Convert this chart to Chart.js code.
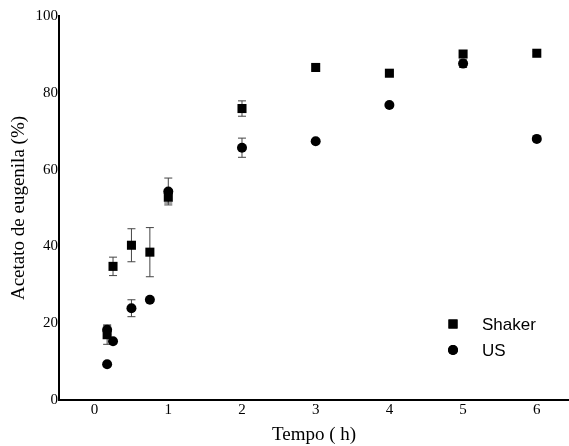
<!DOCTYPE html>
<html>
<head>
<meta charset="utf-8">
<script src="https://cdn.jsdelivr.net/npm/chart.js@4.4.1/dist/chart.umd.min.js"></script>
<style>
  body { margin: 0; background: #fff; }
  canvas { display: block; }
</style>
</head>
<body>
<canvas id="yield-chart" width="569" height="446"></canvas>
<script>
// reaction time (h), conversion (%) and standard deviation for each method
const shakerTime = [0.17, 0.25, 0.5, 0.75, 1, 2, 3, 4, 5, 6];
const shakerYield = [17.0, 34.8, 40.3, 38.5, 52.8, 75.9, 86.6, 85.1, 90.1, 90.3];
const shakerErr = [2.5, 2.4, 4.3, 6.4, 1.5, 2.0, 0.6, 0.5, 0.9, 0.5];

const usTime = [0.17, 0.17, 0.25, 0.5, 0.75, 1, 2, 3, 4, 5, 6];
const usYield = [9.3, 18.3, 15.3, 23.9, 26.1, 54.3, 65.7, 67.4, 76.8, 87.6, 68.0];
const usErr = [0, 1.2, 0, 2.2, 0, 3.5, 2.5, 0, 0, 1.0, 0];

const xTicks = [0, 1, 2, 3, 4, 5, 6];
const yTicks = [0, 20, 40, 60, 80, 100];

const toPoints = (xs, ys) => xs.map((x, i) => ({ x: x, y: ys[i] }));

const serif = "'Liberation Serif', 'Times New Roman', serif";

// vertical error bars with small caps, drawn under the markers
const errorBars = {
    id: 'errorBars',
    beforeDatasetsDraw(chart) {
        const ctx = chart.ctx;
        const yScale = chart.scales.y;
        ctx.save();
        ctx.strokeStyle = '#444';
        ctx.lineWidth = 1;
        chart.data.datasets.forEach((ds, d) => {
            const meta = chart.getDatasetMeta(d);
            ds.errors.forEach((e, i) => {
                if (!e) return;
                const px = meta.data[i].x;
                const top = yScale.getPixelForValue(ds.data[i].y + e);
                const bot = yScale.getPixelForValue(ds.data[i].y - e);
                ctx.beginPath();
                ctx.moveTo(px, top);
                ctx.lineTo(px, bot);
                ctx.moveTo(px - 4, top);
                ctx.lineTo(px + 4, top);
                ctx.moveTo(px - 4, bot);
                ctx.lineTo(px + 4, bot);
                ctx.stroke();
            });
        });
        ctx.restore();
    }
};

// legend sitting inside the plot, lower right
const insideLegend = {
    id: 'insideLegend',
    afterDraw(chart) {
        const ctx = chart.ctx;
        const area = chart.chartArea;
        const x0 = area.right - 116;
        let y0 = area.top + 308;
        ctx.save();
        ctx.font = "17px 'Liberation Sans', Arial, sans-serif";
        ctx.textBaseline = 'middle';
        ctx.fillStyle = '#000';
        chart.data.datasets.forEach(ds => {
            Chart.helpers.drawPoint(ctx, {
                pointStyle: ds.pointStyle,
                radius: ds.pointRadius,
                borderWidth: 0
            }, x0, y0);
            ctx.fill();
            ctx.fillText(ds.label, x0 + 29, y0 + 1);
            y0 += 26;
        });
        ctx.restore();
    }
};

new Chart(document.getElementById('yield-chart'), {
    type: 'scatter',
    data: {
        datasets: [{
            label: 'Shaker',
            data: toPoints(shakerTime, shakerYield),
            errors: shakerErr,
            pointStyle: 'rect',
            pointRadius: 6.4,
            backgroundColor: '#000',
            borderColor: '#000',
            borderWidth: 0
        }, {
            label: 'US',
            data: toPoints(usTime, usYield),
            errors: usErr,
            pointStyle: 'circle',
            pointRadius: 5,
            backgroundColor: '#000',
            borderColor: '#000',
            borderWidth: 0
        }]
    },
    options: {
        responsive: false,
        animation: false,
        devicePixelRatio: 1,
        layout: { autoPadding: false, padding: { top: 16, right: 0, left: 0, bottom: 0 } },
        plugins: {
            legend: { display: false },
            tooltip: { enabled: false }
        },
        scales: {
            x: {
                type: 'linear',
                min: -0.483,
                max: 6.437,
                grid: { display: false, drawTicks: false, tickLength: 0 },
                border: { display: true, color: '#000', width: 2 },
                ticks: { color: '#000', padding: 1, font: { family: serif, size: 15 } },
                afterBuildTicks: scale => { scale.ticks = xTicks.map(v => ({ value: v })); },
                afterFit: scale => { scale.height = 46; },
                title: {
                    display: true,
                    text: 'Tempo ( h)',
                    color: '#000',
                    font: { family: serif, size: 19 },
                    padding: { top: 0, bottom: 0 }
                }
            },
            y: {
                min: 0,
                max: 100,
                grid: { display: false, drawTicks: false, tickLength: 0 },
                border: { display: true, color: '#000', width: 2 },
                ticks: { color: '#000', padding: 1, font: { family: serif, size: 15 } },
                afterBuildTicks: scale => { scale.ticks = yTicks.map(v => ({ value: v })); },
                afterFit: scale => { scale.width = 59; },
                title: {
                    display: true,
                    text: 'Acetato de eugenila (%)',
                    color: '#000',
                    font: { family: serif, size: 19 },
                    padding: { top: 8, bottom: 0 }
                }
            }
        }
    },
    plugins: [errorBars, insideLegend]
});
</script>
</body>
</html>
